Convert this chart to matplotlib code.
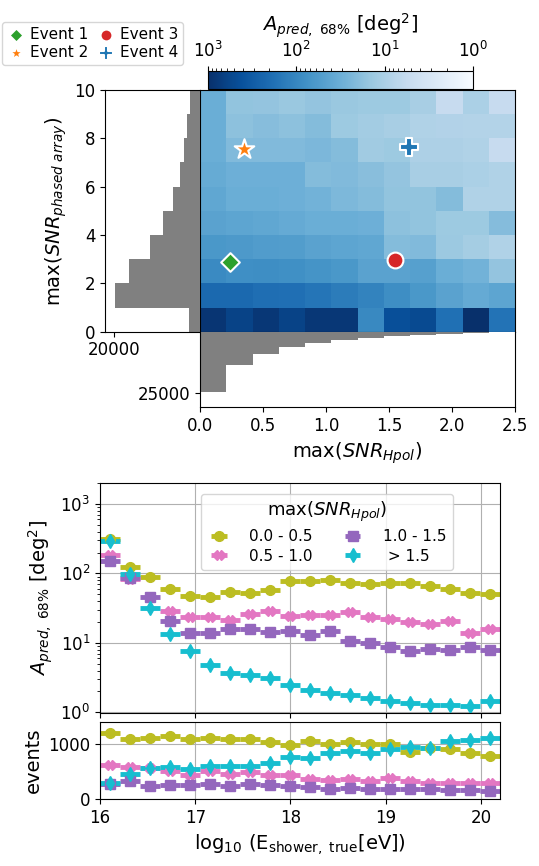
import numpy as np
import matplotlib
matplotlib.use("Agg")
import matplotlib.pyplot as plt
from matplotlib.colors import LogNorm

# --- 2D map: A_pred (deg^2) in bins of max(SNR_Hpol) x max(SNR_phased array)
snr_hpol_edges = np.linspace(0, 2.5, 13)
snr_pa_edges = np.arange(0, 11, 1)
# rows: SNR_pa bin 0-1 ... 9-10 ; columns: SNR_Hpol bins
a_pred_map = np.array([
    [870, 610, 810, 610, 810, 810, 95, 440, 500, 178, 1000, 166],
    [219, 219, 191, 184, 158, 134, 110, 83, 63, 45, 36, 42],
    [92, 81, 83, 78, 70, 63, 45, 45, 50, 32, 28, 16],
    [63, 59, 55, 53, 45, 42, 40, 21, 22, 14, 11.6, 9.1],
    [45, 42, 40, 36, 32, 32, 30, 17.6, 16.4, 13.6, 13.6, 20],
    [40, 32, 32, 30, 28, 23, 21, 16.4, 16.4, 21, 9.1, 9.1],
    [35, 30, 30, 30, 21, 22, 19, 16, 10.8, 10.8, 10.1, 9.1],
    [32, 22, 22, 22, 24, 21, 12.4, 13.6, 9.8, 9.8, 9.1, 5.6],
    [32, 17.6, 19.5, 17.6, 21, 13.6, 12, 10.8, 9.1, 8.8, 8.5, 8.5],
    [32, 16.4, 15.8, 14.3, 15.8, 14.3, 13.6, 13.6, 10.8, 5.6, 10.1, 5.6],
])
counts_hpol = [24600, 13500, 9000, 6250, 4500, 3550, 2570, 1750, 1220, 820, 410, 120]
counts_pa = [2560, 19700, 16450, 11630, 8540, 6210, 4650, 3650, 2950, 2330]

event_labels = ["Event 1", "Event 2", "Event 3", "Event 4"]
event_snr_hpol = [0.24, 0.35, 1.55, 1.66]
event_snr_pa = [2.9, 7.56, 2.97, 7.65]
event_markers = ["D", "*", "o", "P"]
event_colors = ["#2ca02c", "#ff7f0e", "#d62728", "#1f77b4"]
event_sizes = [90, 220, 130, 170]

# --- energy dependence
e_edges = np.linspace(16, 20.2, 21)
e_centers = 0.5 * (e_edges[1:] + e_edges[:-1])
series_labels = ["0.0 - 0.5", "0.5 - 1.0", "1.0 - 1.5", " > 1.5"]
series_colors = ["#bcbd22", "#e377c2", "#9467bd", "#17becf"]
series_markers = ["o", "X", "s", "d"]
a_pred_vs_e = [
    [315, 124, 89, 59, 47.5, 45.5, 54, 52, 58, 77, 79, 81, 74, 70, 72, 74, 65, 60, 52, 50],
    [187, 83, np.nan, 28.8, 23.3, 23.3, 21.3, 25.8, 29, 24.6, 25.6, 25.6, 27.6, 23.8, 21.8, 20.1, 18.7, 20.8, 14, 15.8],
    [149, 86, 45.5, 20.8, 13.7, 14, 15.8, 15.8, 14.4, 14.9, 13.2, 14.8, 10.7, 10.1, 8.6, 7.6, 8.2, 8.0, 8.7, 7.8],
    [291, 98, 31.5, 13.4, 7.6, 4.75, 3.67, 3.4, 3.15, 2.49, 2.11, 1.93, 1.77, 1.62, 1.44, 1.35, 1.26, 1.26, 1.24, 1.44],
]
events_vs_e = [
    [1205, 1085, 1115, 1145, 1096, 1115, 1090, 1085, 1042, 988, 1049, 1000, 1042, 1000, 994, 861, 933, 904, 843, 778],
    [620, 579, 561, 517, 445, 512, 463, 499, 439, 439, 367, 349, 361, 336, 380, 331, 300, 300, 289, 300],
    [277, 336, 241, 259, 259, 282, 246, 271, 253, 246, 217, 193, 199, 181, 193, 187, 181, 175, 175, 156],
    [300, 457, 561, 579, 542, 602, 596, 602, 651, 771, 741, 832, 879, 843, 904, 940, 933, 1054, 1072, 1103],
]

plt.rcParams["font.size"] = 12
fig = plt.figure(figsize=(5.39, 8.66), dpi=100)

ax_map = fig.add_axes([0.3711, 0.6170, 0.5844, 0.2791])
ax_left = fig.add_axes([0.1948, 0.6170, 0.1763, 0.2791])
ax_bot = fig.add_axes([0.3711, 0.5300, 0.5844, 0.0870])
cax = fig.add_axes([0.385, 0.8972, 0.493, 0.0208])

norm = LogNorm(vmin=1, vmax=1000)
mesh = ax_map.pcolormesh(snr_hpol_edges, snr_pa_edges, a_pred_map, cmap="Blues", norm=norm)
ax_map.set_xlim(0, 2.5)
ax_map.set_ylim(0, 10)
ax_map.tick_params(left=False, bottom=False, labelleft=False, labelbottom=False)

for i in range(4):
    ax_map.scatter(event_snr_hpol[i], event_snr_pa[i], marker=event_markers[i],
                   s=event_sizes[i], color=event_colors[i], edgecolors="white",
                   linewidths=1.5, zorder=5, label=event_labels[i])

cb = fig.colorbar(mesh, cax=cax, orientation="horizontal")
cax.invert_xaxis()
cax.xaxis.set_ticks_position("top")
cax.xaxis.set_label_position("top")
cb.set_label(r"$A_{pred,\ \rm 68\%}$ [deg$^2$]", fontsize=14, labelpad=7)

ax_left.barh(snr_pa_edges[:-1], counts_pa, height=1, align="edge", color="gray")
ax_left.set_xlim(22100, 0)
ax_left.set_ylim(0, 10)
ax_left.set_xticks([20000])
ax_left.set_yticks([0, 2, 4, 6, 8, 10])
ax_left.spines["right"].set_visible(False)
ax_left.set_ylabel(r"max($SNR_{phased\ array}$)", fontsize=14)

ax_bot.bar(snr_hpol_edges[:-1], counts_hpol, width=np.diff(snr_hpol_edges), align="edge", color="gray")
ax_bot.set_xlim(0, 2.5)
ax_bot.set_ylim(30700, 0)
ax_bot.set_yticks([25000])
ax_bot.set_xticks([0, 0.5, 1.0, 1.5, 2.0, 2.5])
ax_bot.set_xlabel(r"max($SNR_{Hpol}$)", fontsize=14)
ax_bot.spines["top"].set_visible(False)

h, l = ax_map.get_legend_handles_labels()
fig.legend(h, l, loc="upper left", bbox_to_anchor=(-0.01, 0.983), ncol=2,
           fontsize=11, markerscale=0.75, handletextpad=0.3, columnspacing=0.6,
           borderpad=0.3, labelspacing=0.2, handlelength=1.2)

# --- bottom panels
ax_a = fig.add_axes([0.1855, 0.1763, 0.742, 0.2659])
ax_n = fig.add_axes([0.1855, 0.0770, 0.742, 0.0896], sharex=ax_a)
xerr = 0.5 * np.diff(e_edges)
for k in range(4):
    ax_a.errorbar(e_centers, a_pred_vs_e[k], xerr=xerr, fmt=series_markers[k],
                  color=series_colors[k], lw=3.5, ms=7, label=series_labels[k])
    ax_n.errorbar(e_centers, events_vs_e[k], xerr=xerr, fmt=series_markers[k],
                  color=series_colors[k], lw=3.5, ms=7)

ax_a.set_yscale("log")
ax_a.set_ylim(0.97, 2000)
ax_a.set_xlim(16, 20.2)
ax_a.grid(True, color="#b0b0b0")
ax_a.tick_params(labelbottom=False)
ax_a.set_ylabel(r"$A_{pred,\ \rm 68\%}$ [deg$^2$]", fontsize=14)
ax_a.legend(title=r"max($SNR_{Hpol}$)", ncol=2, loc="upper center",
            bbox_to_anchor=(0.567, 0.985), fontsize=11, title_fontsize=13,
            columnspacing=1.8, handlelength=1.6, handletextpad=1.2,
            labelspacing=0.3)

ax_n.set_ylim(0, 1400)
ax_n.set_yticks([0, 1000])
ax_n.set_xticks([16, 17, 18, 19, 20])
ax_n.grid(True, color="#b0b0b0")
ax_n.set_ylabel("events", fontsize=14)
ax_n.set_xlabel(r"log$_{10}$ (E$_{\mathrm{shower,\ true}}$[eV])", fontsize=14)

fig.savefig("out.png", dpi=100)
